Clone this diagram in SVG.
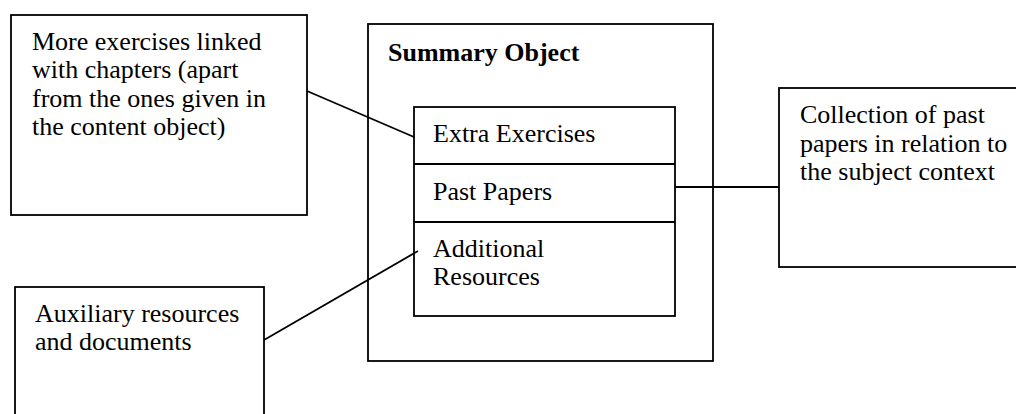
<svg xmlns="http://www.w3.org/2000/svg" width="1016" height="414" viewBox="0 0 1016 414">
<style>
.box{fill:#fff;stroke:#000;stroke-width:1.8}
.ln{stroke:#000;stroke-width:1.8;fill:none}
text{font-family:"Liberation Serif","Times New Roman",serif;font-size:26px;fill:#000}
.b{font-weight:bold}
</style>
<rect width="1016" height="414" fill="#fff"/>
<g id="note-exercises">
<rect class="box" x="11" y="15" width="296" height="200"/>
<text x="32" y="50">More exercises linked</text>
<text x="32" y="78">with chapters (apart</text>
<text x="32" y="106.5">from the ones given in</text>
<text x="32" y="135">the content object)</text>
</g>
<g id="summary-object">
<rect class="box" x="368" y="24" width="345" height="337"/>
<text class="b" x="388" y="61">Summary Object</text>
</g>
<g id="summary-items">
<rect class="box" x="414" y="107" width="261" height="209"/>
<line class="ln" x1="414" y1="164" x2="675" y2="164"/>
<line class="ln" x1="414" y1="222" x2="675" y2="222"/>
<text x="433" y="142">Extra Exercises</text>
<text x="433" y="200">Past Papers</text>
<text x="433" y="257">Additional</text>
<text x="433" y="285">Resources</text>
</g>
<g id="note-pastpapers">
<rect class="box" x="779" y="88" width="245" height="179"/>
<text x="800" y="123">Collection of past</text>
<text x="800" y="151.5">papers in relation to</text>
<text x="800" y="180">the subject context</text>
</g>
<g id="note-auxiliary">
<rect class="box" x="15" y="287" width="249" height="140"/>
<text x="35" y="322">Auxiliary resources</text>
<text x="35" y="350">and documents</text>
</g>
<g id="connectors">
<line class="ln" x1="307" y1="91" x2="414" y2="137"/>
<line class="ln" x1="675" y1="187" x2="779" y2="187"/>
<line class="ln" x1="264" y1="340" x2="418" y2="251"/>
</g>
</svg>
